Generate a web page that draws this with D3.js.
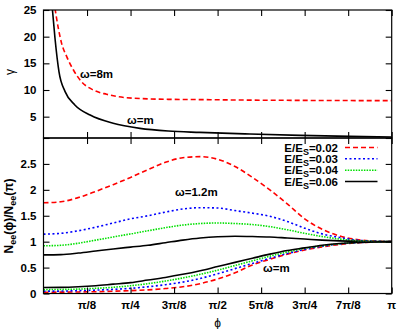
<!DOCTYPE html>
<html>
<head>
<meta charset="utf-8">
<script src="https://cdn.jsdelivr.net/npm/d3@7"></script>
<style>
  body { margin: 0; background: #fff; }
  svg { display: block; font-family: "Liberation Sans", Arial, sans-serif; }
</style>
</head>
<body>
<svg id="chart" width="399" height="329"></svg>
<script>
// phi values are stored as fractions of pi (0 .. 1)

// ---- top panel: gamma vs phi ----
const topPhiM = [0.0253, 0.033, 0.0445, 0.062, 0.09, 0.134, 0.2, 0.277, 0.358, 0.449, 0.593, 0.737, 0.88, 1.0];
const topGammaM = [25.3, 19.7, 13.4, 9.7, 7.2, 5.3, 3.75, 2.8, 2.3, 2.05, 1.75, 1.5, 1.3, 1.2];
const topPhi8M = [0.033, 0.0425, 0.052, 0.067, 0.086, 0.11, 0.143, 0.181, 0.239, 0.358, 0.449, 0.6, 0.75, 1.0];
const topGamma8M = [25.3, 21.6, 18.75, 16.2, 13.75, 11.5, 10.0, 9.2, 8.55, 8.25, 8.2, 8.1, 8.05, 8.0];
const topYTicks = [5, 10, 15, 20, 25];

// ---- bottom panel: Nee(phi)/Nee(pi) ----
const phiGrid = [0, 0.05, 0.1, 0.15, 0.2, 0.25, 0.3, 0.35, 0.4, 0.45, 0.5, 0.55, 0.6, 0.65, 0.7, 0.75, 0.8, 0.85, 0.9, 0.95, 1.0];

// omega = 1.2m
const w12_002 = [1.75, 1.77, 1.85, 1.97, 2.10, 2.24, 2.39, 2.53, 2.62, 2.64, 2.59, 2.45, 2.24, 2.0, 1.73, 1.44, 1.24, 1.11, 1.04, 1.01, 1.0];
const w12_003 = [1.145, 1.16, 1.21, 1.28, 1.36, 1.44, 1.50, 1.57, 1.63, 1.655, 1.65, 1.60, 1.55, 1.49, 1.39, 1.26, 1.15, 1.08, 1.03, 1.01, 1.0];
const w12_004 = [0.92, 0.93, 0.97, 1.03, 1.09, 1.15, 1.21, 1.27, 1.32, 1.35, 1.36, 1.35, 1.33, 1.29, 1.23, 1.16, 1.10, 1.05, 1.02, 1.005, 1.0];
const w12_006 = [0.745, 0.75, 0.78, 0.82, 0.86, 0.895, 0.93, 0.98, 1.03, 1.07, 1.095, 1.105, 1.10, 1.09, 1.07, 1.05, 1.03, 1.015, 1.005, 1.0, 1.0];

// omega = m
const w1_002 = [0.025, 0.026, 0.03, 0.035, 0.045, 0.055, 0.07, 0.095, 0.13, 0.19, 0.28, 0.40, 0.55, 0.66, 0.76, 0.84, 0.90, 0.945, 0.977, 0.994, 1.0];
const w1_003 = [0.045, 0.047, 0.055, 0.065, 0.08, 0.10, 0.13, 0.17, 0.22, 0.29, 0.38, 0.48, 0.58, 0.68, 0.77, 0.85, 0.91, 0.955, 0.98, 0.995, 1.0];
const w1_004 = [0.075, 0.078, 0.085, 0.10, 0.12, 0.15, 0.19, 0.24, 0.30, 0.37, 0.45, 0.54, 0.63, 0.72, 0.80, 0.87, 0.92, 0.96, 0.985, 0.995, 1.0];
const w1_006 = [0.115, 0.118, 0.13, 0.15, 0.18, 0.21, 0.26, 0.31, 0.37, 0.44, 0.52, 0.60, 0.68, 0.76, 0.83, 0.88, 0.93, 0.965, 0.985, 0.995, 1.0];

const bottomYTicks = [0, 0.5, 1, 1.5, 2, 2.5, 3];
const bottomYLabels = ["0", "0.5", "1", "1.5", "2", "2.5", ""];
const xTickFrac = [0.125, 0.25, 0.375, 0.5, 0.625, 0.75, 0.875, 1];
const xTickLabels = ["\u03c0/8", "\u03c0/4", "3\u03c0/8", "\u03c0/2", "5\u03c0/8", "3\u03c0/4", "7\u03c0/8", "\u03c0"];

const legendRatios = ["0.02", "0.03", "0.04", "0.06"];
const seriesColors = ["#ff0000", "#0000ff", "#00e000", "#000000"];
const seriesDash = ["5,3", "2,2.5", "1.5,1.2", null];

// ---- layout ----
const svg = d3.select("#chart");
const left = 43.5, right = 391.7;
const topY0 = 10, midY = 138, botY1 = 293.5;
const tickLen = 6;

const x = d3.scaleLinear().domain([0, 1]).range([left, right]);
const yTop = d3.scaleLinear().domain([1, 25]).range([midY, topY0]);
const yBot = d3.scaleLinear().domain([0, 3]).range([botY1, midY]);

function makeText(g, txt, px, py, anchor, weight, size) {
    return g.append("text")
        .attr("x", px).attr("y", py)
        .attr("text-anchor", anchor)
        .attr("font-weight", weight)
        .attr("font-size", size)
        .attr("fill", "#000")
        .text(txt);
}

function drawCurve(clipId, yScale, xs, ys, color, dash) {
    const line = d3.line()
        .x((d, i) => x(xs[i]))
        .y(d => yScale(d))
        .curve(d3.curveMonotoneX);
    svg.append("path")
        .datum(ys)
        .attr("clip-path", "url(#" + clipId + ")")
        .attr("d", line)
        .attr("fill", "none")
        .attr("stroke", color)
        .attr("stroke-width", 1.6)
        .attr("stroke-dasharray", dash);
}

// clip paths for the two panels
const defs = svg.append("defs");
defs.append("clipPath").attr("id", "clipTop").append("rect")
    .attr("x", left).attr("y", topY0).attr("width", right - left).attr("height", midY - topY0);
defs.append("clipPath").attr("id", "clipBot").append("rect")
    .attr("x", left).attr("y", midY).attr("width", right - left).attr("height", botY1 - midY);

// ---- top panel curves ----
drawCurve("clipTop", yTop, topPhi8M, topGamma8M, "#ff0000", "5,3");
drawCurve("clipTop", yTop, topPhiM, topGammaM, "#000000", null);

// ---- bottom panel curves ----
const w12 = [w12_002, w12_003, w12_004, w12_006];
const w1 = [w1_002, w1_003, w1_004, w1_006];
w12.forEach((s, i) => drawCurve("clipBot", yBot, phiGrid, s, seriesColors[i], seriesDash[i]));
w1.forEach((s, i) => drawCurve("clipBot", yBot, phiGrid, s, seriesColors[i], seriesDash[i]));

// ---- axes (gnuplot style: inward ticks on all four sides) ----
function panelFrame(yScale, yTicks, yLabels, y0, y1, showX) {
    const g = svg.append("g");
    g.append("rect")
        .attr("x", left).attr("y", y0)
        .attr("width", right - left).attr("height", y1 - y0)
        .attr("fill", "none").attr("stroke", "#000").attr("stroke-width", 1.2);

    // y ticks left + right mirrored
    g.append("g").attr("transform", "translate(" + left + ",0)")
        .call(d3.axisLeft(yScale).tickValues(yTicks).tickSizeInner(-tickLen).tickSizeOuter(0).tickFormat(""))
        .call(a => a.select(".domain").remove());
    g.append("g").attr("transform", "translate(" + right + ",0)")
        .call(d3.axisRight(yScale).tickValues(yTicks).tickSizeInner(-tickLen).tickSizeOuter(0).tickFormat(""))
        .call(a => a.select(".domain").remove());

    // x ticks bottom + top mirrored
    g.append("g").attr("transform", "translate(0," + y1 + ")")
        .call(d3.axisBottom(x).tickValues(xTickFrac).tickSizeInner(-tickLen).tickSizeOuter(0).tickFormat(""))
        .call(a => a.select(".domain").remove());
    g.append("g").attr("transform", "translate(0," + y0 + ")")
        .call(d3.axisTop(x).tickValues(xTickFrac).tickSizeInner(-tickLen).tickSizeOuter(0).tickFormat(""))
        .call(a => a.select(".domain").remove());

    g.selectAll(".tick line").attr("stroke", "#000").attr("stroke-width", 1.1);

    yTicks.forEach((t, i) => {
        makeText(g, yLabels[i], left - 7, yScale(t) + 4, "end", "bold", 11.5);
    });
    if (showX) {
        xTickFrac.forEach((t, i) => {
            makeText(g, xTickLabels[i], x(t), y1 + 15, "middle", "bold", 11.5);
        });
    }
}

panelFrame(yTop, topYTicks, topYTicks.map(String), topY0, midY, false);
panelFrame(yBot, bottomYTicks, bottomYLabels, midY, botY1, true);

// ---- axis titles ----
svg.append("text")
    .attr("transform", "translate(14,72) rotate(-90)")
    .attr("text-anchor", "middle")
    .attr("font-size", 12)
    .text("\u03b3");

const ylab = svg.append("text")
    .attr("transform", "translate(13,216) rotate(-90)")
    .attr("text-anchor", "middle")
    .attr("font-size", 12)
    .attr("font-weight", "bold");
ylab.append("tspan").text("N");
ylab.append("tspan").attr("font-size", 9).attr("dy", 3).text("ee");
ylab.append("tspan").attr("dy", -3).text("(\u03d5)/N");
ylab.append("tspan").attr("font-size", 9).attr("dy", 3).text("ee");
ylab.append("tspan").attr("dy", -3).text("(\u03c0)");

makeText(svg, "\u03d5", x(0.5), 327, "middle", "normal", 12);

// ---- curve annotations ----
makeText(svg, "\u03c9=8m", 80, 78, "start", "bold", 11.5);
makeText(svg, "\u03c9=m", 127, 124, "start", "bold", 11.5);
makeText(svg, "\u03c9=1.2m", 175, 196, "start", "bold", 11.5);
makeText(svg, "\u03c9=m", 263, 272, "start", "bold", 11.5);

// ---- legend ----
const legRowY = [147.5, 158.8, 170.2, 181.5];
legendRatios.forEach((r, i) => {
    const t = svg.append("text")
        .attr("x", 338).attr("y", legRowY[i] + 4)
        .attr("text-anchor", "end")
        .attr("font-size", 11.5)
        .attr("font-weight", "bold");
    t.append("tspan").text("E/E");
    t.append("tspan").attr("font-size", 9).attr("dy", 3).text("S");
    t.append("tspan").attr("dy", -3).text("=" + r);
    svg.append("line")
        .attr("x1", 345).attr("x2", 377.5)
        .attr("y1", legRowY[i]).attr("y2", legRowY[i])
        .attr("stroke", seriesColors[i])
        .attr("stroke-width", 1.6)
        .attr("stroke-dasharray", seriesDash[i]);
});
</script>
</body>
</html>
